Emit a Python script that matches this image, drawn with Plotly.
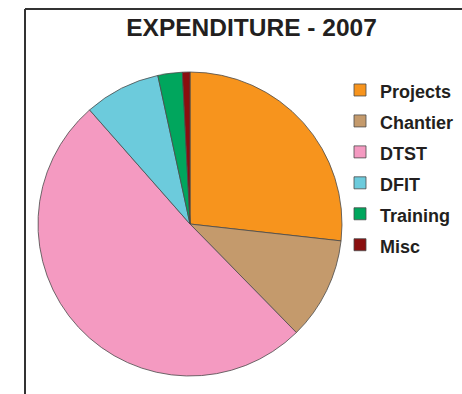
import plotly.graph_objects as go

categories = ["Projects", "Chantier", "DTST", "DFIT", "Training", "Misc"]
values = [26.8, 10.9, 50.9, 8.1, 2.6, 0.8]
colors = ["#F7941D", "#C49A6C", "#F49AC1", "#6CCBDC", "#00A65D", "#8A0F0F"]
title_text = "EXPENDITURE - 2007"

W, H = 462, 394

def px_x(x):
    return x / W

def px_y(y):
    return 1 - y / H

legend_labels = [f"<span style='font-size:18px'>{c}</span>" for c in categories]

fig = go.Figure(
    go.Pie(
        labels=legend_labels,
        values=values,
        marker=dict(colors=colors, line=dict(color="#4a4a4a", width=0.8)),
        sort=False,
        direction="clockwise",
        rotation=0,
        textinfo="none",
        hoverinfo="label+percent",
        domain=dict(x=[px_x(38), px_x(342)], y=[px_y(376), px_y(72)]),
    )
)

fig.update_layout(
    width=W,
    height=H,
    margin=dict(l=0, r=0, t=0, b=0),
    paper_bgcolor="white",
    plot_bgcolor="white",
    title=dict(
        text=title_text,
        x=px_x(251.5),
        y=px_y(27),
        xanchor="center",
        yanchor="middle",
        font=dict(family="Liberation Sans, Arial, sans-serif", size=24.5, color="#231F20", weight="bold"),
    ),
    legend=dict(
        x=px_x(340),
        y=px_y(69.5),
        xanchor="left",
        yanchor="top",
        font=dict(family="Liberation Sans, Arial, sans-serif", size=21.5, color="#231F20", weight="bold"),
        bgcolor="rgba(0,0,0,0)",
        borderwidth=0,
    ),
    shapes=[
        dict(type="line", xref="paper", yref="paper", x0=px_x(25), x1=px_x(25), y0=0, y1=px_y(9),
             line=dict(color="#333333", width=2)),
        dict(type="line", xref="paper", yref="paper", x0=px_x(25), x1=1, y0=px_y(9), y1=px_y(9),
             line=dict(color="#333333", width=2)),
    ],
)

fig.write_html("out.html")
